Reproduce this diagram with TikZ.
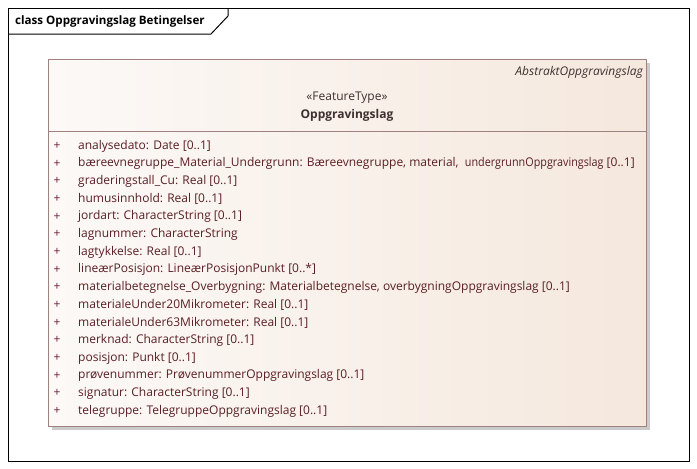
\documentclass[tikz,border=0pt]{standalone}
\usepackage{fontspec}
\usepackage{graphicx}
\setmainfont{Open Sans}
\usetikzlibrary{shadings}
\definecolor{framec}{HTML}{000000}
\definecolor{boxline}{HTML}{9E8282}
\definecolor{boxL}{HTML}{FCF9F7}
\definecolor{boxR}{HTML}{F5E8DD}
\definecolor{attrc}{HTML}{5A1E24}
\definecolor{plusc}{HTML}{6A1E3A}
\definecolor{stereoc}{HTML}{3E3030}
\definecolor{shadowc}{HTML}{CBCBCB}
\tikzset{
  attr/.style={anchor=west, inner sep=0pt, text=attrc, font=\fontsize{12}{14}\selectfont},
  plus/.style={anchor=center, inner sep=0pt, text=plusc, font=\fontsize{12}{14}\selectfont},
  title/.style={anchor=west, inner sep=0pt, font=\fontsize{11.6}{14}\selectfont\bfseries},
}
\begin{document}
\begin{tikzpicture}[x=1pt,y=-1pt]
\useasboundingbox (0,0) rectangle (697,469);
% frame
\draw[line width=1pt, framec] (8,8) rectangle (689,461);
\draw[line width=1pt, framec] (228,8) -- (228,16) -- (211,34) -- (8,34);
\node[title] (frametitle) at (15,21) {class Oppgravingslag Betingelser};
% class box
\fill[shadowc] (52,63) rectangle (650,430);
\shade[left color=boxL, right color=boxR] (48,59) rectangle (646,426);
\draw[boxline, line width=0.8pt] (48,59) rectangle (646,426);
\draw[boxline, line width=0.8pt] (48,131) -- (646,131);
\node[anchor=east, inner sep=0pt, text=stereoc, font=\fontsize{12}{14}\selectfont\itshape] (abs) at (643,72) {AbstraktOppgravingslag};
\node[inner sep=0pt, text=stereoc, font=\fontsize{12}{14}\selectfont] (st) at (347,98) {«FeatureType»};
\node[inner sep=0pt, text=stereoc, font=\fontsize{12}{14}\selectfont\bfseries] (nm) at (347,115) {Oppgravingslag};
\foreach \t [count=\i from 0] in {
  {analysedato: Date [0..1]},
  {bæreevnegruppe\_Material\_Undergrunn: Bæreevnegruppe, material,\ \ \scalebox{0.9}[1]{undergrunnOppgravingslag} [0..1]},
  {graderingstall\_Cu: Real [0..1]},
  {humusinnhold: Real [0..1]},
  {jordart: CharacterString [0..1]},
  {lagnummer: CharacterString},
  {lagtykkelse: Real [0..1]},
  {lineærPosisjon: LineærPosisjonPunkt [0..*]},
  {materialbetegnelse\_Overbygning: Materialbetegnelse, overbygningOppgravingslag [0..1]},
  {materialeUnder20Mikrometer: Real [0..1]},
  {materialeUnder63Mikrometer: Real [0..1]},
  {merknad: CharacterString [0..1]},
  {posisjon: Punkt [0..1]},
  {prøvenummer: PrøvenummerOppgravingslag [0..1]},
  {signatur: CharacterString [0..1]},
  {telegruppe: TelegruppeOppgravingslag [0..1]}}
{
  \node[plus] (p\i) at (57,146+17.67*\i) {+};
  \node[attr] (a\i) at (78,146+17.67*\i) {\t};
}
\end{tikzpicture}
\end{document}
